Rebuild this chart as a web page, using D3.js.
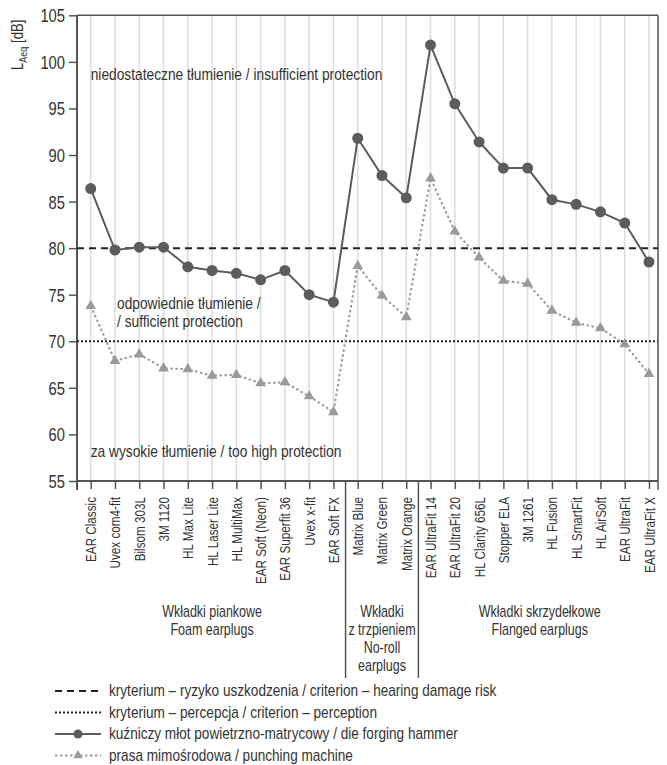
<!DOCTYPE html>
<html>
<head>
<meta charset="utf-8">
<script src="https://cdn.jsdelivr.net/npm/d3@7"></script>
<style>
  body { margin: 0; background: #fff; }
  svg text {
    font-family: "Liberation Sans", Arial, sans-serif;
    fill: #333;
  }
</style>
</head>
<body>
<svg id="chart" width="667" height="765"></svg>
<script>
// Earplug models, in plotting order
const categories = [
  "EAR Classic", "Uvex com4-fit", "Bilsom 303L", "3M 1120", "HL Max Lite",
  "HL Laser Lite", "HL MultiMax", "EAR Soft (Neon)", "EAR Superfit 36", "Uvex x-fit",
  "EAR Soft FX",
  "Matrix Blue", "Matrix Green", "Matrix Orange",
  "EAR UltraFit 14", "EAR UltraFit 20", "HL Clarity 656L", "Stopper ELA", "3M 1261",
  "HL Fusion", "HL SmartFit", "HL AirSoft", "EAR UltraFit", "EAR UltraFit X"
];

// Number of models in each earplug group, and the group captions
const groupSizes = [11, 3, 10];
const groupLabels = [
  ["Wkładki piankowe", "Foam earplugs"],
  ["Wkładki", "z trzpieniem", "No-roll", "earplugs"],
  ["Wkładki skrzydełkowe", "Flanged earplugs"]
];

// L_Aeq under the earplug [dB]
const forgingHammer = [
  86.4, 79.8, 80.1, 80.1, 78.0, 77.6, 77.3, 76.6, 77.6, 75.0, 74.2,
  91.8, 87.8, 85.4,
  101.8, 95.5, 91.4, 88.6, 88.6, 85.2, 84.7, 83.9, 82.7, 78.5
];
const punchingMachine = [
  73.8, 67.9, 68.6, 67.1, 67.0, 66.3, 66.4, 65.5, 65.6, 64.1, 62.4,
  78.1, 74.9, 72.6,
  87.5, 81.8, 79.0, 76.5, 76.2, 73.3, 72.0, 71.4, 69.7, 66.5
];

// Criterion levels [dB]
const damageCriterion = 80;
const perceptionCriterion = 70;

const yTicks = [55, 60, 65, 70, 75, 80, 85, 90, 95, 100, 105];

const legendItems = [
  "kryterium – ryzyko uszkodzenia / criterion – hearing damage risk",
  "kryterium – percepcja / criterion – perception",
  "kuźniczy młot powietrzno-matrycowy / die forging hammer",
  "prasa mimośrodowa / punching machine"
];

// ---- layout ----
const plot = { left: 77, right: 658, top: 15.3, bottom: 481 };
const svg = d3.select("#chart");

const x = d3.scalePoint().domain(categories).range([90.7, 649]);
const y = d3.scaleLinear().domain([55, 105]).range([plot.bottom, plot.top]);

const axisColor = "#555";
const hammerColor = "#5c5c5e";
const punchColor = "#9a9a9a";

// Narrow lettering: squeeze each text horizontally around its anchor point
function condense(sel, sx) {
  sel.each(function () {
    const t = d3.select(this);
    const tx = +t.attr("x") || 0;
    const ty = +t.attr("y") || 0;
    const base = t.attr("transform") || "";
    t.attr("x", 0).attr("y", 0)
      .attr("transform", `${base} translate(${tx},${ty}) scale(${sx},1)`);
  });
}

// vertical grid lines
svg.append("g")
  .selectAll("line")
  .data(categories)
  .join("line")
  .attr("x1", d => x(d)).attr("x2", d => x(d))
  .attr("y1", plot.top).attr("y2", plot.bottom)
  .attr("stroke", "#dcdcdc").attr("stroke-width", 1.5);

// frame: top and right border
svg.append("line")
  .attr("x1", plot.left).attr("x2", plot.right)
  .attr("y1", plot.top).attr("y2", plot.top)
  .attr("stroke", axisColor).attr("stroke-width", 1.5);
svg.append("line")
  .attr("x1", plot.right).attr("x2", plot.right)
  .attr("y1", plot.top).attr("y2", plot.bottom + 9)
  .attr("stroke", axisColor).attr("stroke-width", 1.5);

// y axis
const yAxis = svg.append("g")
  .attr("transform", `translate(${plot.left},0)`)
  .call(d3.axisLeft(y).tickValues(yTicks).tickSize(8).tickPadding(4));
yAxis.select(".domain").remove();
yAxis.selectAll(".tick line").attr("stroke", axisColor).attr("stroke-width", 1.5);
yAxis.selectAll(".tick text")
  .attr("fill", "#333")
  .style("font-size", "18px")
  .attr("dy", "0.36em")
  .call(condense, 0.82);
svg.append("line")
  .attr("x1", plot.left).attr("x2", plot.left)
  .attr("y1", plot.top).attr("y2", plot.bottom + 9)
  .attr("stroke", axisColor).attr("stroke-width", 2);

// x axis
const xAxis = svg.append("g")
  .attr("transform", `translate(0,${plot.bottom})`)
  .call(d3.axisBottom(x).tickSize(8).tickPadding(0));
xAxis.select(".domain").remove();
xAxis.selectAll(".tick line").attr("stroke", axisColor).attr("stroke-width", 1.5);
xAxis.selectAll(".tick text")
  .attr("fill", "#333")
  .style("font-size", "15px")
  .attr("text-anchor", "end")
  .attr("dy", null)
  .attr("x", 0)
  .attr("y", 0)
  .attr("transform", "translate(5,16) rotate(-90) scale(0.78,1)");
svg.append("line")
  .attr("x1", plot.left).attr("x2", plot.right)
  .attr("y1", plot.bottom).attr("y2", plot.bottom)
  .attr("stroke", axisColor).attr("stroke-width", 2);

// y axis title
const yTitle = svg.append("text")
  .attr("transform", "translate(23,70) rotate(-90) scale(0.82,1)")
  .style("font-size", "16px");
yTitle.append("tspan").text("L");
yTitle.append("tspan").text("Aeq").attr("dy", 4).style("font-size", "11px");
yTitle.append("tspan").text(" [dB]").attr("dy", -4);

// criterion lines
svg.append("line")
  .attr("x1", plot.left).attr("x2", plot.right)
  .attr("y1", y(damageCriterion)).attr("y2", y(damageCriterion))
  .attr("stroke", "#222").attr("stroke-width", 2)
  .attr("stroke-dasharray", "7,5");
svg.append("line")
  .attr("x1", plot.left).attr("x2", plot.right)
  .attr("y1", y(perceptionCriterion)).attr("y2", y(perceptionCriterion))
  .attr("stroke", "#222").attr("stroke-width", 2)
  .attr("stroke-dasharray", "2,2");

// zone annotations
const zoneText = svg.append("g").style("font-size", "16px");
zoneText.append("text").attr("x", 90.7).attr("y", 80)
  .text("niedostateczne tłumienie / insufficient protection");
zoneText.append("text").attr("x", 117).attr("y", 309)
  .text("odpowiednie tłumienie /");
zoneText.append("text").attr("x", 117).attr("y", 327)
  .text("/ sufficient protection");
zoneText.append("text").attr("x", 90.7).attr("y", 456.7)
  .text("za wysokie tłumienie / too high protection");
zoneText.selectAll("text").call(condense, 0.86);

// series lines
const line = d3.line().x((d, i) => x(categories[i])).y(d => y(d));

svg.append("path")
  .datum(punchingMachine)
  .attr("d", line)
  .attr("fill", "none")
  .attr("stroke", punchColor).attr("stroke-width", 2)
  .attr("stroke-dasharray", "2.5,2.5");

svg.append("path")
  .datum(forgingHammer)
  .attr("d", line)
  .attr("fill", "none")
  .attr("stroke", hammerColor).attr("stroke-width", 2);

const triangle = d3.symbol().type(d3.symbolTriangle).size(50);
svg.append("g")
  .selectAll("path")
  .data(punchingMachine)
  .join("path")
  .attr("d", triangle)
  .attr("transform", (d, i) => `translate(${x(categories[i])},${y(d)})`)
  .attr("fill", punchColor);

svg.append("g")
  .selectAll("circle")
  .data(forgingHammer)
  .join("circle")
  .attr("cx", (d, i) => x(categories[i]))
  .attr("cy", d => y(d))
  .attr("r", 5.5)
  .attr("fill", hammerColor);

// group separators and captions
let start = 0;
const groupText = svg.append("g").style("font-size", "16px").attr("text-anchor", "middle");
groupSizes.forEach((n, g) => {
  const first = categories[start];
  const last = categories[start + n - 1];
  const cx = (x(first) + x(last)) / 2;
  groupLabels[g].forEach((s, k) => {
    groupText.append("text").attr("x", cx).attr("y", 617 + k * 18).text(s);
  });
  if (g < groupSizes.length - 1) {
    const sx = (x(last) + x(categories[start + n])) / 2;
    svg.append("line")
      .attr("x1", sx).attr("x2", sx)
      .attr("y1", plot.bottom).attr("y2", 678)
      .attr("stroke", axisColor).attr("stroke-width", 1.5);
  }
  start += n;
});
groupText.selectAll("text").call(condense, 0.78);

// legend
const legend = svg.append("g").attr("transform", "translate(55,691)");
const rowH = 21.5;
legendItems.forEach((label, i) => {
  const row = legend.append("g").attr("transform", `translate(0,${i * rowH})`);
  const ln = row.append("line").attr("x1", 0).attr("x2", 46).attr("y1", 0).attr("y2", 0)
    .attr("stroke-width", 2);
  if (i === 0) ln.attr("stroke", "#222").attr("stroke-dasharray", "7,5");
  if (i === 1) ln.attr("stroke", "#222").attr("stroke-dasharray", "2,2");
  if (i === 2) {
    ln.attr("stroke", hammerColor);
    row.append("circle").attr("cx", 23).attr("cy", 0).attr("r", 4.5).attr("fill", hammerColor);
  }
  if (i === 3) {
    ln.attr("stroke", punchColor).attr("stroke-dasharray", "2.5,2.5");
    row.append("path").attr("d", d3.symbol().type(d3.symbolTriangle).size(40)())
      .attr("transform", "translate(23,0)").attr("fill", punchColor);
  }
  row.append("text").attr("x", 54).attr("y", 5).style("font-size", "16px").text(label)
    .call(condense, 0.85);
});
</script>
</body>
</html>
